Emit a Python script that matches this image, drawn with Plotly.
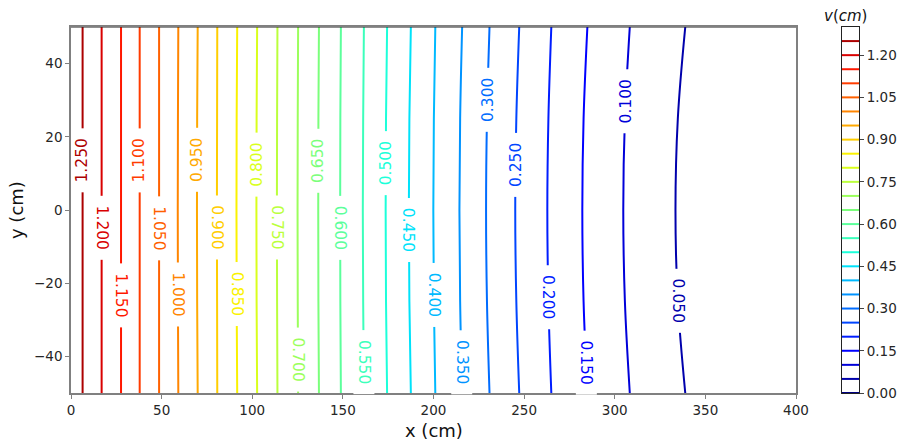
import numpy as np
import plotly.graph_objects as go

# ---- data ----
levels = [1.25, 1.20, 1.15, 1.10, 1.05, 1.00, 0.95, 0.90, 0.85, 0.80, 0.75, 0.70, 0.65,
          0.60, 0.55, 0.50, 0.45, 0.40, 0.35, 0.30, 0.25, 0.20, 0.15, 0.10, 0.05]
y_rows = [-50, -25, 0, 25, 50]
# x position (cm) of each contour at y = +-50, +-25 and 0
x_edge = [6.4, 16.9, 27.6, 37.9, 48.6, 59.2, 69.9, 80.7, 91.7, 102.7, 113.9, 125.3, 136.8,
          148.9, 161.6, 174.4, 187.5, 201.0, 215.8, 230.9, 247.3, 265.0, 284.9, 308.3, 338.9]
x_quarter = [6.4, 16.9, 27.6, 37.9, 48.6, 59.0, 69.6, 80.6, 91.4, 102.4, 113.7, 125.1, 136.5,
             148.6, 161.2, 173.8, 186.7, 200.2, 214.7, 229.5, 245.7, 263.4, 282.8, 305.6, 334.8]
x_center = [6.4, 16.9, 27.6, 37.9, 48.6, 58.9, 69.5, 80.5, 91.3, 102.3, 113.6, 125.0, 136.4,
            148.5, 161.0, 173.6, 186.4, 199.9, 214.3, 229.0, 245.1, 262.8, 282.1, 304.7, 333.5]
# inline label centre (y, cm) and reading direction (+1 upward, -1 downward)
label_y = [13.6, -4.9, -23.2, 13.6, -4.9, -23.2, 13.6, -4.9, -23.0, 12.4, -4.9, -41.0, 13.4,
           -4.8, -41.6, 12.9, -5.6, -23.3, -41.6, 30.1, 12.4, -23.8, -41.6, 29.8, -24.9]
label_dir = [1, -1, -1, 1, -1, -1, 1, -1, -1, 1, -1, -1, 1,
             -1, -1, 1, -1, -1, -1, 1, 1, -1, -1, 1, -1]
cbar_levels = [0.00, 0.05, 0.10, 0.15, 0.20, 0.25, 0.30, 0.35, 0.40, 0.45, 0.50, 0.55, 0.60,
               0.65, 0.70, 0.75, 0.80, 0.85, 0.90, 0.95, 1.00, 1.05, 1.10, 1.15, 1.20, 1.25]
cbar_ticks = [0.00, 0.15, 0.30, 0.45, 0.60, 0.75, 0.90, 1.05, 1.20]
vmin, vmax = 0.0, 1.3
x_ticks = [0, 50, 100, 150, 200, 250, 300, 350, 400]
y_ticks = [-40, -20, 0, 20, 40]

FONT = "DejaVu Sans"


def jet(v):
    t = (v - vmin) / (vmax - vmin)
    r = np.interp(t, [0, 0.35, 0.66, 0.89, 1], [0, 0, 1, 1, 0.5])
    g = np.interp(t, [0, 0.125, 0.375, 0.64, 0.91, 1], [0, 0, 1, 1, 0, 0])
    b = np.interp(t, [0, 0.11, 0.34, 0.65, 1], [0.5, 1, 1, 0, 0])
    return "rgb(%d,%d,%d)" % (round(r * 255), round(g * 255), round(b * 255))


fig = go.Figure()
annotations = []
for i, lvl in enumerate(levels):
    xs = [x_edge[i], x_quarter[i], x_center[i], x_quarter[i], x_edge[i]]
    col = jet(lvl)
    fig.add_trace(go.Scatter(x=xs, y=y_rows, mode="lines",
                             line=dict(color=col, width=2, shape="spline"),
                             hoverinfo="skip", showlegend=False, xaxis="x", yaxis="y"))
    lx = float(np.interp(label_y[i], y_rows, xs))
    annotations.append(dict(x=lx, y=label_y[i], xref="x", yref="y", text="%.3f" % lvl,
                            showarrow=False, textangle=-90 if label_dir[i] > 0 else 90,
                            font=dict(family=FONT, size=15.5, color=col),
                            bgcolor="white", width=63, height=20, borderpad=0,
                            xanchor="center", yanchor="middle"))

# colorbar drawn on its own axes
for lvl in cbar_levels:
    fig.add_trace(go.Scatter(x=[0, 1], y=[lvl, lvl], mode="lines",
                             line=dict(color=jet(lvl), width=2),
                             hoverinfo="skip", showlegend=False, xaxis="x2", yaxis="y2"))

# plot area: x 71..859 px, y 27..393 px
W_PLOT = 788.0
main_right = 725.0 / W_PLOT
cb_left = (842 - 71) / W_PLOT

annotations += [
    dict(text="x (cm)", x=(433.5 - 71) / W_PLOT, y=-(431 - 393) / 366.0, xref="paper", yref="paper",
         showarrow=False, font=dict(family=FONT, size=18, color="#111"),
         xanchor="center", yanchor="middle"),
    dict(text="y (cm)", x=(16 - 71) / W_PLOT, y=0.5, xref="paper", yref="paper",
         showarrow=False, textangle=-90, font=dict(family=FONT, size=18, color="#111"),
         xanchor="center", yanchor="middle"),
    dict(text="<i>v</i>(<i>cm</i>)", x=(845 - 71) / W_PLOT, y=(393 - 16) / 366.0,
         xref="paper", yref="paper", showarrow=False,
         font=dict(family=FONT, size=15, color="#111"), xanchor="center", yanchor="middle"),
]

axis_common = dict(showgrid=False, zeroline=False, ticks="outside", ticklen=4,
                   tickcolor="#808080", tickwidth=1.2, automargin=False,
                   tickfont=dict(family=FONT, size=13.5, color="#262626"))

fig.update_layout(
    width=901, height=444,
    margin=dict(l=71, r=42, t=27, b=51, pad=0, autoexpand=False),
    paper_bgcolor="white", plot_bgcolor="white",
    font=dict(family=FONT),
    xaxis=dict(domain=[0, main_right], range=[0, 400], tickvals=x_ticks,
               showline=True, mirror=True, linecolor="#808080", linewidth=1.5,
               anchor="y", **axis_common),
    yaxis=dict(domain=[0, 1], range=[-50, 50], tickvals=y_ticks,
               showline=True, mirror=True, linecolor="#808080", linewidth=1.5,
               anchor="x", **axis_common),
    xaxis2=dict(domain=[cb_left, 1], range=[0, 1], anchor="y2", showgrid=False,
                zeroline=False, showticklabels=False, ticks="", showline=True,
                mirror=True, linecolor="#222", linewidth=1, automargin=False),
    yaxis2=dict(domain=[0, 1], range=[vmin, vmax], anchor="x2", side="right",
                tickvals=cbar_ticks, ticktext=["%.2f" % t for t in cbar_ticks],
                showline=True, mirror=True, linecolor="#222", linewidth=1,
                showgrid=False, zeroline=False, ticks="outside", ticklen=4,
                tickcolor="#444", tickwidth=1, automargin=False,
                tickfont=dict(family=FONT, size=13.5, color="#262626")),
    annotations=annotations,
    shapes=[dict(type="line", xref="x", yref="y", x0=0, x1=400, y0=50, y1=50,
                 line=dict(color="#222", width=1.2), layer="above")],
)

fig.write_html("out.html")
